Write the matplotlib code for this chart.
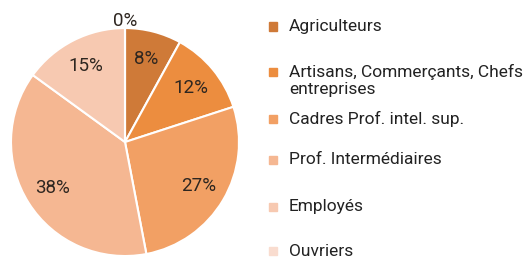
import numpy as np
import matplotlib.pyplot as plt
from matplotlib.patches import Rectangle

plt.rcParams["font.family"] = ["Liberation Sans Narrow", "Roboto", "DejaVu Sans"]

# data
categories = [
    "Agriculteurs",
    "Artisans, Commerçants, Chefs\nentreprises",
    "Cadres Prof. intel. sup.",
    "Prof. Intermédiaires",
    "Employés",
    "Ouvriers",
]
shares = [8, 12, 27, 38, 15, 0]
colors = ["#cf7a38", "#ec8d3f", "#f2a064", "#f5b792", "#f7c9b1", "#f9dccf"]

fig = plt.figure(figsize=(5.27, 2.61), dpi=100)
ax = fig.add_axes([0.0209, 0.019, 0.4326, 0.8736])

wedges, _ = ax.pie(
    shares,
    colors=colors,
    startangle=90,
    counterclock=False,
    radius=1,
    wedgeprops=dict(edgecolor="white", linewidth=1.5),
)
ax.set_xlim(-1, 1)
ax.set_ylim(-1, 1)
ax.set_aspect("equal")

# percentage labels, the empty slice gets its label just outside
for w, v in zip(wedges, shares):
    ang = np.deg2rad((w.theta1 + w.theta2) / 2)
    r = 0.75 if v > 0 else 1.06
    ax.text(r * np.cos(ang), r * np.sin(ang), f"{v}%", ha="center", va="center",
            fontsize=13.5, color="#2e2620", clip_on=False)

# legend on the right
legend_y = [27, 73, 119, 160, 207, 251]  # pixel rows of each entry
H = 261.0
for lab, col, y in zip(categories, colors, legend_y):
    yf = 1 - y / H
    fig.patches.append(Rectangle((269 / 527, yf - 3.5 / H), 8 / 527, 8 / H,
                                 transform=fig.transFigure, color=col))
    fig.text(289 / 527, yf, lab, ha="left", va="top" if "\n" in lab else "center",
             fontsize=12.5, color="#222222", linespacing=1.15)
# the two-line entry must start at the same row as its marker
for t in fig.texts:
    if "\n" in t.get_text():
        t.set_y(1 - (73 - 9) / H)

fig.savefig("out.png", dpi=100)
